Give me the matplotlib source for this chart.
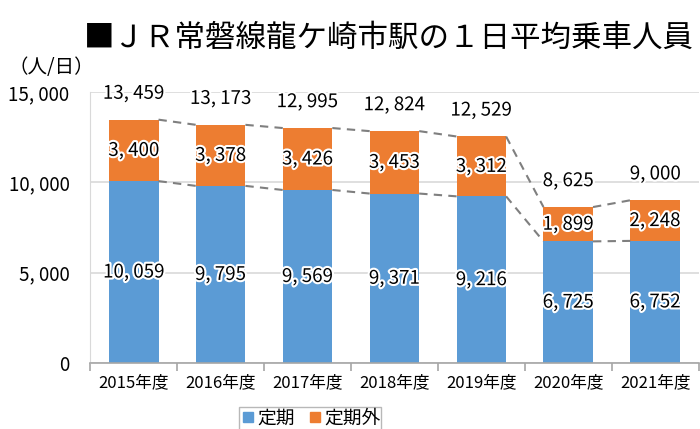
import matplotlib
matplotlib.use("Agg")
import matplotlib.pyplot as plt
import matplotlib.patheffects as pe
from matplotlib.lines import Line2D
import numpy as np

plt.rcParams['font.family'] = ['Noto Sans CJK JP', 'DejaVu Sans']

years = ['2015年度', '2016年度', '2017年度', '2018年度', '2019年度', '2020年度', '2021年度']
teiki = [10059, 9795, 9569, 9371, 9216, 6725, 6752]
teikigai = [3400, 3378, 3426, 3453, 3312, 1899, 2248]
totals = [13459, 13173, 12995, 12824, 12529, 8625, 9000]

BLUE = '#5B9BD5'
ORANGE = '#ED7D31'
GRID = '#D9D9D9'
AXIS = '#A6A6A6'

def fmt(v):
    return f"{v:,}".replace(",", ", ")

glow = [pe.withStroke(linewidth=3, foreground='white')]

fig = plt.figure(figsize=(7, 4.29), dpi=100)
ax = fig.add_axes([0.129, 0.154, 0.869, 0.632])

x = np.arange(len(years))
w = 0.57
ax.bar(x, teiki, w, color=BLUE, zorder=2)
ax.bar(x, teikigai, w, bottom=teiki, color=ORANGE, zorder=2)

# 系列線
tops = np.array(teiki) + np.array(teikigai)
for i in range(len(years) - 1):
    for h in (teiki, tops):
        ax.plot([x[i] + w / 2, x[i + 1] - w / 2], [h[i], h[i + 1]],
                color='#7F7F7F', lw=1.5, ls=(0, (4, 3)), zorder=3)

for i in range(len(years)):
    ax.text(x[i], teiki[i] / 2, fmt(teiki[i]), ha='center', va='center',
            fontsize=13.5, path_effects=glow, zorder=4)
    ax.text(x[i], teiki[i] + teikigai[i] / 2, fmt(teikigai[i]), ha='center', va='center',
            fontsize=13.5, path_effects=glow, zorder=4)
    ax.annotate(fmt(totals[i]), (x[i], tops[i]), xytext=(0, 19), textcoords='offset points',
                ha='center', va='center', fontsize=13.5, path_effects=glow, zorder=4)

ax.set_xlim(-0.5, len(years) - 0.5)
ax.set_ylim(0, 15000)
ax.set_yticks([0, 5000, 10000, 15000])
ax.set_yticklabels([fmt(v) for v in [0, 5000, 10000, 15000]], fontsize=13.5)
ax.tick_params(axis='y', length=0, pad=15)
ax.set_xticks(x)
ax.set_xticklabels(years, fontsize=12)
ax.set_xticks(np.arange(-0.5, len(years)), minor=True)
ax.tick_params(axis='x', which='major', length=0, pad=8)
ax.tick_params(axis='x', which='minor', length=6, color=AXIS, width=1.2)
ax.yaxis.grid(True, color=GRID, lw=1.2, zorder=0)
ax.set_axisbelow(True)
for s in ['top', 'right']:
    ax.spines[s].set_visible(False)
ax.spines['left'].set_color(GRID)
ax.spines['bottom'].set_color(AXIS)
ax.spines['bottom'].set_linewidth(1.2)

fig.text(0.556, 0.911, '■ＪＲ常磐線龍ケ崎市駅の１日平均乗車人員', ha='center', va='center', fontsize=22)
fig.text(0.012, 0.842, '（人/日）', ha='left', va='center', fontsize=14)

handles = [Line2D([], [], marker='s', ls='', color=BLUE, markersize=7),
           Line2D([], [], marker='s', ls='', color=ORANGE, markersize=7)]
leg = fig.legend(handles, ['定期', '定期外'], loc='upper center', bbox_to_anchor=(0.443, 0.074),
                 ncol=2, frameon=True, fancybox=False, fontsize=13.5, handletextpad=0.05,
                 columnspacing=0.6, borderpad=0.05, handlelength=0.9)
leg.get_frame().set_edgecolor(AXIS)
leg.get_frame().set_linewidth(1.0)

fig.savefig('out.png', dpi=100)
